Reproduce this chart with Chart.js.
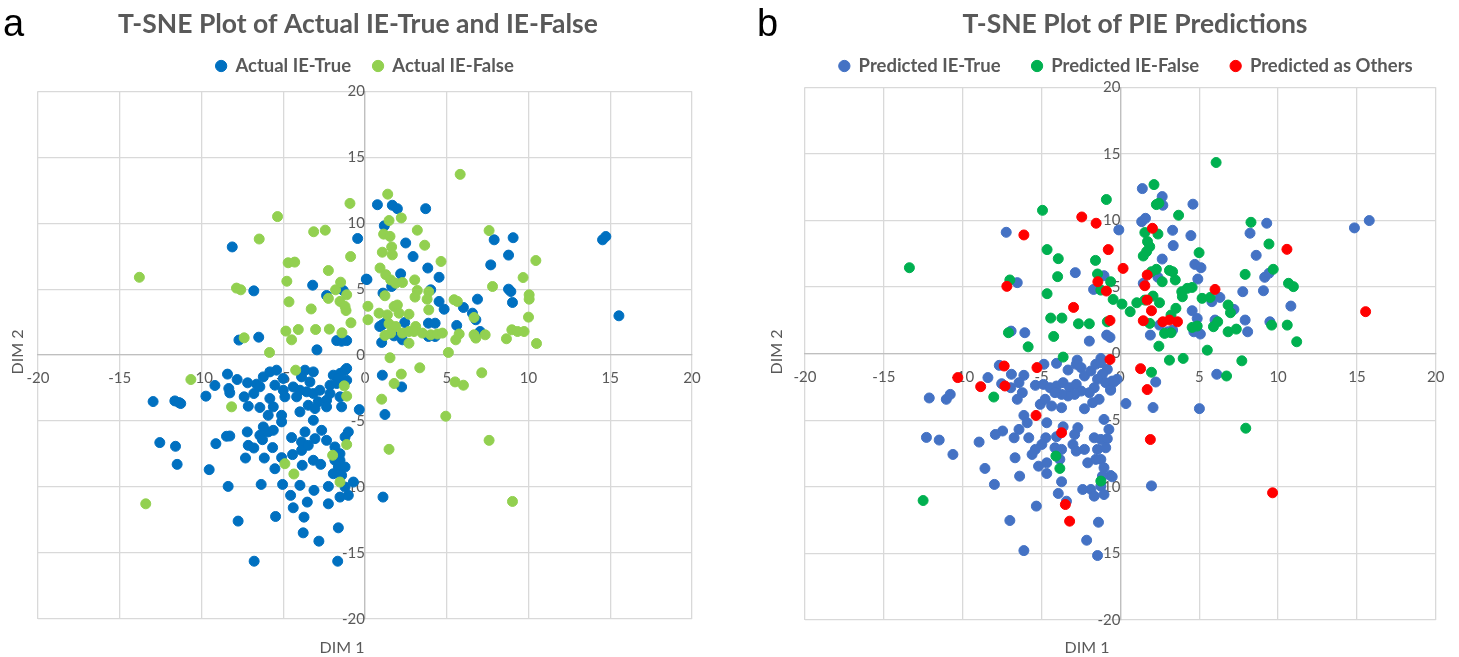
<!DOCTYPE html>
<html>
<head>
<meta charset="utf-8">
<script src="https://cdn.jsdelivr.net/npm/chart.js@4.4.1/dist/chart.umd.min.js"></script>
<style>
html, body { margin: 0; padding: 0; background: #fff; }
#wrap { position: relative; width: 1459px; height: 657px; overflow: hidden; }
canvas { position: absolute; top: 0; }
</style>
</head>
<body>
<div id="wrap">
  <canvas id="chartA" width="729" height="657" style="left:0px"></canvas>
  <canvas id="chartB" width="730" height="657" style="left:729px"></canvas>
</div>
<script>
// tick values shared by both axes of both panels
const axisMin = -20;
const axisMax = 20;
const axisStep = 5;

// panel a - actual labels, [DIM 1, DIM 2]
const actualTrue = [
  [-8.12,8.2],[-6.8,4.87],[-0.45,8.84],[0.12,5.73],[-3.2,5.3],[-2.35,4.52],[-1.33,4.9],[-6.5,1.36],[-7.71,1.14],
  [-1.73,1.1],[-1.43,1.05],[-1.12,1.1],[-2.94,0.4],
  [0.76,11.4],[1.67,11.36],[1.98,11.1],[3.71,11.1],[1.18,9.8],[2.49,8.5],[2.94,7.47],[3.84,6.6],[4.53,5.9],
  [2.18,6.16],[0.08,5.76],[1.63,5.2],[1.1,4.7],[4.02,4.95],[4.53,4.07],[4.84,3.48],[6.02,3.61],[6.88,4.24],
  [6.57,3.18],[6.78,2.68],[0.9,2.17],[1.06,2.3],[1.27,2.47],[2.43,2.47],[1.78,1.46],[2.29,1.16],[3.88,1.41],
  [4.29,1.41],[3.88,2.42],[4.29,2.42],[5.61,2.25],[7.04,1.79],[1.02,0.96],[7.9,8.74],[9.06,8.9],[8.78,7.58],
  [7.69,6.84],[8.78,5.0],[8.92,4.82],[9.02,3.99],[14.53,8.74],[14.73,8.99],[15.53,2.98],
  [-8.41,-1.44],[-7.82,-1.85],[-9.18,-2.3],[-9.73,-3.11],[-8.33,-2.53],[-8.27,-2.86],[-7.18,-2.1],[-6.63,-2.2],
  [-6.22,-1.65],[-5.82,-1.27],[-7.39,-3.16],[-7.14,-3.87],[-6.8,-2.91],[-6.43,-2.4],[-5.51,-2.28],[-5.0,-1.77],
  [-6.43,-3.97],[-5.92,-4.56],[-5.61,-3.92],[-5.0,-2.66],[-4.9,-3.16],[-4.39,-2.41],[-5.82,-3.29],[-5.1,-5.06],
  [-5.1,-4.56],[-5.41,-1.14],[-12.96,-3.52],[-11.63,-3.47],[-11.37,-3.6],[-11.27,-3.67],
  [-3.67,-1.14],[-3.16,-1.27],[-3.88,-1.65],[-3.37,-2.03],[-3.98,-2.66],[-3.57,-2.78],[-4.18,-3.16],[-3.16,-2.91],
  [-2.76,-2.66],[-2.14,-2.28],[-1.94,-1.52],[-1.53,-1.39],[-1.22,-1.14],[-1.12,-1.9],[-1.73,-2.15],[-2.14,-2.91],
  [-1.53,-3.16],[-2.86,-3.54],[-2.35,-3.42],[-3.47,-3.8],[-3.98,-4.3],[-3.06,-4.05],[-2.35,-3.92],[-1.43,-3.92],
  [-0.35,-4.13],[-1.12,-1.01],[-1.63,-1.77],[-3.16,-4.94],
  [-12.55,-6.63],[-11.59,-6.91],[-11.49,-8.28],[-9.53,-8.68],[-9.12,-6.71],[-8.47,-6.15],[-8.27,-6.13],[-7.2,-5.82],
  [-7.14,-6.84],[-6.8,-7.04],[-6.22,-5.44],[-6.43,-6.08],[-5.92,-5.82],[-5.61,-5.7],[-6.27,-6.41],[-7.31,-7.8],
  [-6.16,-7.8],[-5.65,-7.01],[-4.49,-6.25],[-4.43,-7.54],[-5.1,-7.77],[-5.51,-8.61],[-3.84,-8.35],[-3.88,-6.58],
  [-3.67,-5.82],[-3.88,-7.22],[-3.47,-6.84],[-3.06,-6.33],[-2.65,-5.7],[-3.16,-7.97],[-2.71,-8.28],[-2.35,-6.46],
  [-1.84,-6.96],[-1.53,-7.47],[-1.53,-7.97],[-1.63,-8.48],[-1.22,-8.48],[-1.43,-9.11],[-1.02,-5.82],[-1.22,-6.2],
  [-1.84,-7.97],[-0.71,-9.62],[-1.94,-8.99],[-2.24,-9.95],[-1.53,-10.76],[-1.02,-10.63],[-1.22,-10.0],[-2.24,-11.27],
  [-3.12,-10.25],[-3.53,-11.14],[-3.98,-9.87],[-4.55,-10.63],[-4.39,-11.57],[-3.73,-12.28],[-5.04,-9.8],[-5.47,-12.23],
  [-6.35,-9.8],[-8.37,-9.95],[-7.76,-12.58],[-3.78,-13.47],[-2.82,-14.1],[-1.63,-13.09],[-1.67,-15.62],[-6.78,-15.62],
  [1.06,-1.52],[2.24,-2.41],[1.22,-4.5],[1.1,-10.76]
];
const actualFalse = [
  [-13.8,5.9],[-5.35,10.5],[-6.47,8.8],[-7.86,5.08],[-7.6,4.95],[-0.92,11.5],[-3.14,9.35],[-2.43,9.47],[-0.88,7.47],
  [-4.7,7.0],[-4.3,7.05],[-2.24,6.41],[-4.78,5.6],[-1.49,5.53],[-1.8,4.95],[-1.12,4.57],[-1.53,4.07],[-1.22,3.69],
  [-1.16,3.38],[-2.24,4.3],[-4.65,4.04],[-3.29,3.5],[0.18,3.7],[0.18,2.68],[-0.86,2.45],[-4.84,1.82],[-4.49,1.16],
  [-4.08,1.94],[-7.39,1.31],[-3.02,1.94],[-2.18,1.97],[-1.41,1.69],[-5.84,0.2],
  [5.82,13.7],[1.39,12.2],[1.47,10.2],[2.22,10.4],[1.14,9.17],[1.53,9.0],[3.2,9.47],[1.63,8.2],[1.67,7.6],[1.06,7.8],
  [3.65,8.33],[4.65,7.1],[0.92,6.6],[1.27,6.1],[1.57,5.7],[1.88,5.45],[2.29,5.5],[3.04,5.7],[1.22,4.5],[3.2,4.9],
  [3.06,4.4],[3.9,4.8],[3.8,4.24],[5.45,4.2],[5.65,4.07],[3.9,3.43],[6.67,2.85],[0.86,3.18],[1.37,3.05],[1.78,3.69],
  [1.98,3.8],[2.08,3.18],[2.69,3.1],[1.47,2.37],[1.88,2.17],[1.57,1.67],[2.29,1.67],[2.69,1.79],[3.1,2.17],[3.0,1.79],
  [1.22,1.49],[2.69,0.9],[3.51,1.67],[4.02,1.54],[4.43,1.6],[4.73,1.67],[5.76,1.6],[5.55,1.16],[6.67,1.54],[6.78,1.29],
  [7.35,1.54],[1.53,-0.2],[5.1,0.2],[7.59,9.44],[10.45,7.17],[9.67,5.88],[7.8,5.2],[10.04,4.57],[10.04,4.24],[10.0,2.88],
  [8.65,1.24],[8.98,1.92],[9.33,1.79],[9.73,1.79],[10.49,0.88],
  [-10.65,-1.85],[-4.24,-1.14],[-8.16,-3.92],[-1.27,-2.33],[-1.12,-3.11],[-4.9,-8.23],[-4.35,-9.01],[-1.98,-7.59],
  [-1.12,-6.78],[-1.53,-9.62],[-13.41,-11.27],
  [2.22,-1.44],[3.35,-0.96],[1.78,-2.15],[5.51,-2.03],[6.02,-2.28],[7.14,-1.34],[1.02,-3.34],[4.94,-4.63],
  [7.59,-6.46],[1.47,-7.14],[9.02,-11.09]
];

// panel b - predictions, [DIM 1, DIM 2]
const predTrue = [
  [-7.24,9.11],[-0.1,9.29],[-2.86,6.08],[-1.04,5.85],[-6.54,5.33],[-1.7,4.82],[-6.93,1.69],[-6.06,1.57],[-1.97,0.94],
  [-0.87,1.39],[-0.66,1.22],[-2.74,-0.49],[-1.24,-0.36],
  [1.39,12.39],[2.65,11.79],[2.69,11.14],[4.6,11.22],[1.35,9.91],[1.59,10.16],[3.31,9.26],[4.47,8.86],[3.35,8.11],
  [2.65,7.1],[4.72,6.7],[5.11,6.45],[2.38,5.73],[1.45,5.28],[4.91,5.6],[6.31,4.22],[5.8,3.9],[4.55,3.22],[4.87,2.64],
  [2.48,2.14],[3.0,1.64],[3.31,1.77],[4.66,1.64],[5.07,1.47],[6.0,2.52],[7.2,3.32],[7.91,2.52],[8.07,1.64],[1.9,1.39],
  [9.28,9.79],[8.22,9.04],[8.61,7.38],[9.15,5.73],[9.42,6.03],[7.76,4.65],[9.07,4.72],[10.81,3.57],[9.48,2.39],
  [14.84,9.44],[15.78,9.99],
  [-8.4,-1.8],[-7.68,-0.88],[-6.91,-1.55],[-6.12,-1.63],[-6.43,-2.18],[-7.53,-2.26],[-6.95,-2.56],[-12.12,-3.33],
  [-11.04,-3.43],[-10.79,-3.06],[-4.85,-0.8],[-4.05,-0.73],[-3.32,-1.23],[-2.8,-0.8],[-2.49,-1.05],
  [-5.39,-2.38],[-4.88,-2.31],[-4.46,-2.56],[-4.05,-2.43],[-3.63,-2.18],[-3.22,-2.56],[-2.8,-2.31],[-2.28,-1.68],
  [-1.87,-1.3],[-1.56,-0.8],[-1.24,-0.68],[-0.83,-1.18],[-1.14,-1.55],[-1.45,-1.93],[-0.93,-2.18],[-0.52,-2.06],
  [-0.21,-1.93],[-1.66,-2.56],[-1.97,-2.93],[-2.49,-2.81],[-2.9,-3.06],[-3.32,-3.18],[-3.73,-3.06],[-4.15,-2.93],
  [-0.62,-2.68],[-1.35,-3.43],[-1.76,-3.68],[-2.28,-4.14],[-3.73,-4.06],[-4.36,-3.93],[-5.08,-3.81],[-4.77,-3.43],
  [-6.54,-3.43],[-6.22,-2.93],
  [-6.12,-4.64],[-5.91,-5.19],[-6.43,-5.69],[-6.74,-6.32],[-5.81,-6.32],[-7.47,-5.81],[-7.93,-6.07],
  [-4.67,-5.19],[-4.73,-6.32],[-4.98,-6.82],[-5.39,-7.19],[-5.6,-7.57],[-5.19,-8.45],[-4.67,-8.2],[-4.67,-9.0],
  [-4.15,-7.07],[-3.73,-7.19],[-4.05,-6.24],[-3.63,-5.49],[-2.9,-6.07],[-2.7,-5.56],[-3.01,-6.82],[-2.8,-7.32],
  [-2.07,-8.2],[-3.84,-7.94],[-3.73,-9.62],[-3.94,-10.5],[-3.42,-11.08],
  [-8.96,-6.64],[-12.3,-6.29],[-11.49,-6.49],[-10.62,-7.57],[-8.59,-8.62],[-7.99,-9.82],[-6.68,-7.82],[-6.39,-9.2],
  [-5.33,-11.45],[-7.01,-12.53],[-6.12,-14.79],[-2.14,-14.01],[-1.39,-12.66],[-1.45,-15.16],
  [-1.04,-4.94],[-0.73,-5.69],[-1.66,-6.32],[-1.24,-6.44],[-0.83,-6.39],[-1.45,-7.19],[-0.93,-7.07],[-1.24,-7.94],
  [-1.04,-8.57],[-1.14,-9.2],[-0.62,-9.15],[-1.56,-7.94],[-1.87,-10.2],[-2.39,-10.2],[-1.24,-9.95],[-1.04,-10.58],
  [-1.66,-10.7],[-2.28,-7.19],
  [2.24,-2.13],[6.11,-1.55],[0.35,-3.75],[2.07,-4.05],[5.01,-4.13],[1.97,-9.93],[-0.41,-2.13],[-0.62,-2.75],[-0.52,-9.25]
];
const predFalse = [
  [-13.38,6.45],[-4.94,10.76],[-0.89,11.57],[-4.65,7.81],[-3.94,7.13],[-1.58,7.0],[-3.98,5.78],[-1.45,5.98],
  [-7.01,5.53],[-0.62,5.4],[-1.24,4.77],[-0.46,4.07],[0.1,3.72],[-4.65,4.5],[-4.42,2.67],[-3.71,2.67],[-2.66,2.24],
  [-1.97,2.24],[-0.83,2.39],[-7.1,1.57],[-4.23,1.29],[-5.85,0.51],[-3.63,-0.26],
  [6.07,14.35],[2.13,12.69],[2.28,11.19],[2.44,11.29],[3.69,10.39],[1.55,9.09],[2.38,8.98],[1.72,8.41],[1.86,8.03],
  [1.66,7.66],[1.45,7.33],[4.99,7.58],[2.28,6.33],[1.97,6.15],[3.11,6.25],[3.31,6.15],[3.48,5.53],[2.65,5.4],
  [0.62,3.15],[1.04,3.82],[1.55,4.02],[2.07,4.32],[2.48,3.82],[1.86,2.27],[3.89,4.65],[4.24,4.9],[4.55,4.97],
  [3.93,4.27],[5.18,4.15],[5.69,4.22],[3.52,3.4],[3.21,2.9],[2.8,1.52],[3.21,1.57],[4.55,1.97],[4.87,2.07],[5.9,2.02],
  [6.17,2.39],[6.83,3.65],[6.98,3.07],[6.83,1.64],[7.35,1.84],[5.51,0.26],[2.44,0.56],[3.11,-0.49],[3.98,-0.36],
  [7.7,-0.54],[8.28,9.86],[9.42,8.23],[9.69,6.33],[7.91,5.95],[10.66,5.28],[10.97,5.03],[9.59,2.14],[10.58,2.14],
  [11.18,0.89],
  [-8.03,-3.26],[-4.09,-7.69],[-3.84,-8.62],[-12.51,-11.03],[-1.24,-9.57],
  [1.97,-1.4],[6.73,-1.68],[7.95,-5.6]
];
const predOthers = [
  [-6.12,8.91],[-2.45,10.26],[-1.54,9.79],[-0.77,7.81],[0.17,6.4],[-7.2,5.05],[-1.43,5.4],[-0.89,4.7],[-2.97,3.47],
  [-0.66,2.49],[-0.66,-0.44],
  [2.03,9.41],[1.7,5.9],[1.55,5.1],[1.7,4.02],[1.97,3.22],[1.45,2.47],[6.0,4.82],[2.69,2.39],[3.11,2.52],[3.62,2.39],
  [10.56,7.83],[15.55,3.15],
  [-10.31,-1.8],[-7.37,-0.93],[-5.29,-1.05],[-8.86,-2.48],[-7.32,-2.43],[-5.35,-4.64],[-3.73,-5.94],[-3.49,-11.33],
  [-3.22,-12.58],
  [1.28,-1.13],[1.7,-2.7],[1.9,-6.45],[9.65,-10.45]
];

const textGrey = '#595959';

function toPoints(arr) {
  return arr.map(p => ({ x: p[0], y: p[1] }));
}

function series(label, arr, color, order) {
  return {
    label: label,
    data: toPoints(arr),
    backgroundColor: color,
    borderColor: color,
    borderWidth: 1,
    pointRadius: 5,
    order: order
  };
}

function axis(posKey, padding) {
  const pos = {};
  pos[posKey] = 0;
  return {
    type: 'linear',
    position: pos,
    min: axisMin,
    max: axisMax,
    ticks: {
      stepSize: axisStep,
      autoSkip: false,
      maxRotation: 0,
      padding: padding,
      color: textGrey,
      font: { family: 'Lato', size: 15 }
    },
    grid: { color: '#d9d9d9', lineWidth: 1.3, drawTicks: false },
    border: { color: '#bfbfbf', width: 1.3 }
  };
}

// title, axis titles and panel letter drawn on top of the chart
function panelText(o) {
  return {
    id: 'panelText',
    beforeLayout(chart) {
      // leave a little more room under the legend, like the original
      const lg = chart.legend;
      if (lg && !lg._padFit) {
        const fit = lg.fit.bind(lg);
        lg.fit = function () { fit(); this.height += o.legendExtra; };
        lg._padFit = true;
      }
    },
    afterDraw(chart) {
      const ctx = chart.ctx;
      ctx.save();
      ctx.fillStyle = '#000';
      ctx.font = '38px "Liberation Sans", Arial, sans-serif';
      ctx.textAlign = 'left';
      ctx.textBaseline = 'alphabetic';
      ctx.fillText(o.letter, o.letterX, 36);

      ctx.fillStyle = textGrey;
      ctx.font = 'bold 26.5px Lato';
      ctx.textAlign = 'center';
      ctx.textBaseline = 'middle';
      ctx.fillText(o.title, o.titleX, 24);

      ctx.font = '16px Lato';
      ctx.fillText('DIM 1', o.dim1X, 648);
      ctx.translate(o.dim2X, 352);
      ctx.rotate(-Math.PI / 2);
      ctx.fillText('DIM 2', 0, 0);
      ctx.restore();
    }
  };
}

function makeChart(id, datasets, pad, legendPad, text) {
  new Chart(document.getElementById(id), {
    type: 'scatter',
    data: { datasets: datasets },
    options: {
      responsive: false,
      animation: false,
      devicePixelRatio: 1,
      layout: { padding: pad },
      plugins: {
        legend: {
          position: 'top',
          labels: {
            usePointStyle: true,
            pointStyle: 'circle',
            boxWidth: 10,
            boxHeight: 8,
            padding: legendPad,
            color: textGrey,
            font: { family: 'Lato', size: 18.5, weight: 'bold' },
            sort: (a, b) => a.datasetIndex - b.datasetIndex
          }
        },
        tooltip: { enabled: false }
      },
      scales: {
        x: axis('y', 14.5),
        y: axis('x', 16)
      }
    },
    plugins: [panelText(text)]
  });
}

makeChart('chartA', [
  series('Actual IE-True', actualTrue, '#0070C0', 1),
  series('Actual IE-False', actualFalse, '#92D050', 0)
], { left: 38, right: 37, top: 34.75, bottom: 38 }, 22, {
  letter: 'a', letterX: 3, title: 'T-SNE Plot of Actual IE-True and IE-False', titleX: 358,
  dim1X: 342, dim2X: 18, legendExtra: 6
});

makeChart('chartB', [
  series('Predicted IE-True', predTrue, '#4472C4', 2),
  series('Predicted IE-False', predFalse, '#00B050', 1),
  series('Predicted as Others', predOthers, '#FF0000', 0)
], { left: 76, right: 12, top: 25.25, bottom: 37 }, 31.5, {
  letter: 'b', letterX: 28, title: 'T-SNE Plot of PIE Predictions', titleX: 406,
  dim1X: 358, dim2X: 48, legendExtra: 2
});
</script>
</body>
</html>
